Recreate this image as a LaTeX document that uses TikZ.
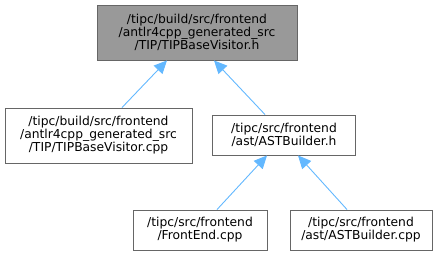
\documentclass[tikz,border=0pt]{standalone}
\usepackage{fontspec}
\setmainfont{DejaVu Sans}
\usetikzlibrary{arrows.meta}

\definecolor{edgeblue}{HTML}{63B8FF}
\definecolor{boxline}{HTML}{666666}
\definecolor{curfill}{HTML}{999999}

\tikzset{
    file/.style={draw=boxline, fill=white, line width=0.9pt, inner sep=0pt,
        align=center, font=\fontsize{12.3}{13}\selectfont},
    curfile/.style={file, fill=curfill},
    incl/.style={draw=edgeblue, line width=0.9pt,
        -{Triangle[length=13pt,width=12pt,fill=edgeblue]}},
}

\begin{document}
\begin{tikzpicture}[x=1pt,y=-1pt]
    \useasboundingbox (0,0) rectangle (443,256);
    \node[curfile, minimum width=200pt, minimum height=55pt] (visith) at (197,32.5)
        {/tipc/build/src/frontend\\/antlr4cpp\_generated\_src\\/TIP/TIPBaseVisitor.h};
    \node[file, minimum width=187pt, minimum height=55pt] (visitcpp) at (98.5,135.5)
        {/tipc/build/src/frontend\\/antlr4cpp\_generated\_src\\/TIP/TIPBaseVisitor.cpp};
    \node[file, minimum width=143pt, minimum height=40pt] (asth) at (284,135)
        {/tipc/src/frontend\\/ast/ASTBuilder.h};
    \node[file, minimum width=134pt, minimum height=40pt] (frontend) at (200,230)
        {/tipc/src/frontend\\/FrontEnd.cpp};
    \node[file, minimum width=142pt, minimum height=40pt] (astcpp) at (361,230)
        {/tipc/src/frontend\\/ast/ASTBuilder.cpp};
    % includes point up to the header
    \draw[incl] ([xshift=23.5pt]visitcpp.north) -- ([xshift=-30pt]visith.south);
    \draw[incl] ([xshift=-19pt]asth.north) -- ([xshift=17pt]visith.south);
    \draw[incl] ([xshift=17pt]frontend.north) -- ([xshift=-17pt]asth.south);
    \draw[incl] ([xshift=-14pt]astcpp.north) -- ([xshift=14pt]asth.south);
\end{tikzpicture}
\end{document}
